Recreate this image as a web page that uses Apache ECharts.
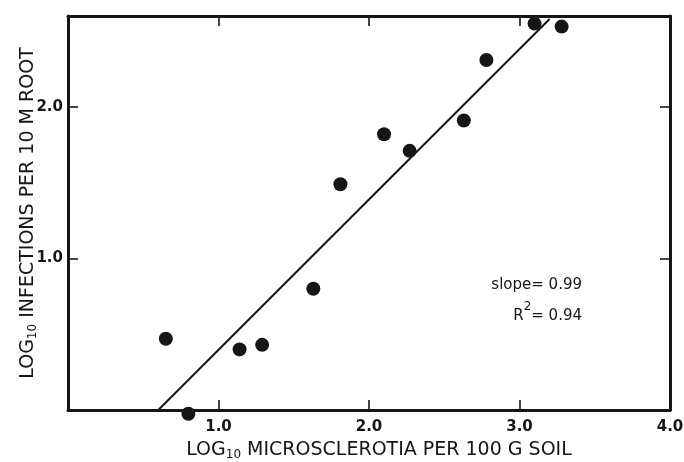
<!DOCTYPE html>
<html lang="en">
<head>
    <meta charset="UTF-8">
    <title>Infections vs microsclerotia</title>
    <script src="https://cdn.jsdelivr.net/npm/echarts@6/dist/echarts.min.js"></script>
    <style>
        html, body { margin: 0; padding: 0; background: #fff; }
    </style>
</head>
<body>
    <div id="chart" style="width: 684px; height: 462px"></div>
    <script>
        // log10 microsclerotia per 100 g soil
        var soilX = [0.65, 0.80, 1.14, 1.29, 1.63, 1.81, 2.10, 2.27, 2.63, 2.78, 3.10, 3.28];
        // log10 infections per 10 m root
        var rootY = [0.47, -0.025, 0.40, 0.43, 0.80, 1.49, 1.82, 1.71, 1.91, 2.31, 2.55, 2.53];
        // fitted line ends
        var fitX = [0.60, 3.20];
        var fitY = [0.00, 2.58];

        var xTicks = [1, 2, 3, 4];
        var yTicks = [1, 2];

        var ink = '#161616';
        var font = '"DejaVu Sans", sans-serif';

        var pts = soilX.map(function(x, i) { return [x, rootY[i]]; });
        var fit = fitX.map(function(x, i) { return [x, fitY[i]]; });

        var chart = echarts.init(document.getElementById('chart'));

        // one side of the frame: thick line, short inward ticks
        function edge(dir, pos, vals, max, label, extra) {
            var ax = {
                type: 'value', position: pos, min: 0, max: max,
                axisLine: { show: true, onZero: false, lineStyle: { color: ink, width: 3 } },
                axisTick: { inside: true, length: 10, customValues: vals.filter(function(v) { return v < max; }),
                            lineStyle: { color: ink, width: 1.6 } },
                splitLine: { show: false },
                axisLabel: label ? {
                    customValues: vals, margin: dir === 'x' ? 10 : 5,
                    color: ink, fontWeight: 'bold', fontSize: 15, fontFamily: font,
                    formatter: function(v) { return v.toFixed(1); }
                } : { show: false }
            };
            return Object.assign(ax, extra || {});
        }

        var subStyle = { fontSize: 12, fontFamily: font, color: ink, verticalAlign: 'bottom', padding: [10, 0, 0, 0] };

        var option = {
            backgroundColor: '#fff',
            animation: false,
            grid: { left: 68, right: 14, top: 16, bottom: 52, outerBoundsMode: 'none' },
            xAxis: [
                edge('x', 'bottom', xTicks, 4, true, {
                    name: 'LOG{sub|10} MICROSCLEROTIA PER 100 G SOIL',
                    nameLocation: 'middle', nameGap: 29, nameMoveOverlap: false,
                    nameTextStyle: { color: ink, fontSize: 19, fontFamily: font, padding: [0, 0, 0, 20], rich: { sub: subStyle } }
                }),
                edge('x', 'top', xTicks, 4, false)
            ],
            yAxis: [
                edge('y', 'left', yTicks, 2.6, true, {
                    name: 'LOG{sub|10} INFECTIONS PER 10 M ROOT',
                    nameLocation: 'middle', nameGap: 29, nameRotate: 90, nameMoveOverlap: false,
                    nameTextStyle: { color: ink, fontSize: 19, fontFamily: font, rich: { sub: subStyle } }
                }),
                edge('y', 'right', yTicks, 2.6, false)
            ],
            graphic: [{
                type: 'text', x: 582, y: 270,
                style: {
                    text: 'slope= 0.99\n{r|R}{sup|2}= 0.94',
                    align: 'right', verticalAlign: 'top', fill: ink, fontSize: 15, fontFamily: font, lineHeight: 31,
                    rich: {
                        r: { fontSize: 15, fontFamily: font, fill: ink },
                        sup: { fontSize: 12, fontFamily: font, fill: ink, verticalAlign: 'top', padding: [0, 0, 14, 0] }
                    }
                }
            }],
            series: [{
                type: 'line', data: fit, showSymbol: false, symbol: 'none',
                lineStyle: { color: ink, width: 2 }, z: 2
            }, {
                type: 'scatter', data: pts, symbolSize: 14, clip: false,
                itemStyle: { color: ink, opacity: 1 }, z: 1
            }]
        };

        chart.setOption(option);
    </script>
</body>
</html>
